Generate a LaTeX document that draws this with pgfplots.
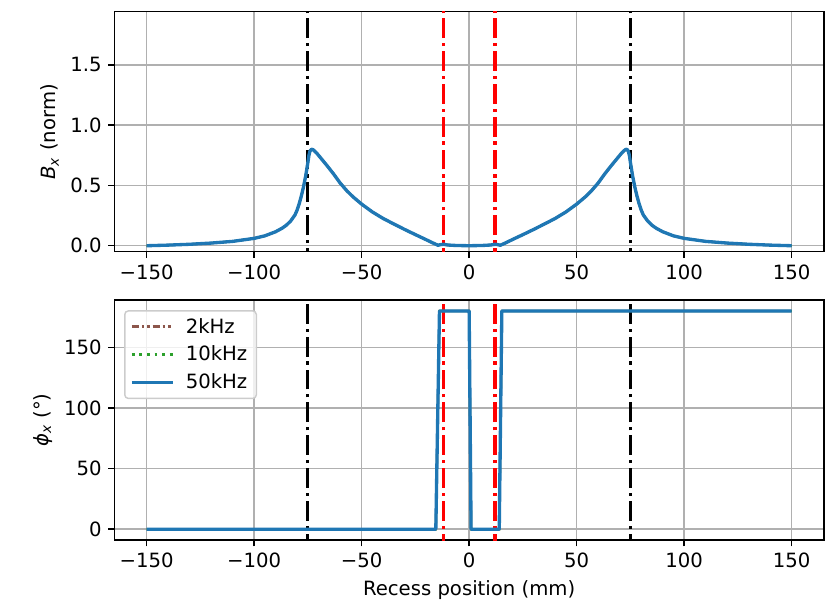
\documentclass[border=0pt]{standalone}
\usepackage{pgfplots}
\pgfplotsset{compat=1.18}
\usepackage{pgfplotstable}
\usepackage{fontspec}
\setmainfont{DejaVu Sans}
\definecolor{mplblue}{HTML}{1F77B4}
\definecolor{mplbrown}{HTML}{8C564B}
\definecolor{mplgreen}{HTML}{2CA02C}
\definecolor{gridgray}{HTML}{B0B0B0}
\definecolor{leggray}{HTML}{CCCCCC}

\pgfplotstableread{
x y
-150 0
-140 0.005
-130 0.012
-120 0.022
-110 0.036
-100 0.061
-95 0.082
-90 0.116
-87 0.145
-85 0.17
-83 0.205
-81 0.255
-80 0.296
-79 0.35
-78 0.415
-77 0.49
-76 0.58
-75 0.69
-74.5 0.75
-74 0.785
-73.3 0.80
-72.5 0.795
-71 0.77
-69 0.727
-66 0.662
-63 0.594
-60 0.52
-57 0.458
-54 0.405
-50 0.345
-45 0.28
-40 0.226
-35 0.18
-30 0.135
-25 0.092
-20 0.05
-17 0.024
-14.5 0.004
-13 0.010
-12 0.012
-10 0.006
-6 0.002
0 0
6 0.002
10 0.006
12 0.012
13 0.010
14.5 0.004
17 0.024
20 0.05
25 0.092
30 0.135
35 0.18
40 0.226
45 0.28
50 0.345
54 0.405
57 0.458
60 0.52
63 0.594
66 0.662
69 0.727
71 0.77
72.5 0.795
73.3 0.80
74 0.785
74.5 0.75
75 0.69
76 0.58
77 0.49
78 0.415
79 0.35
80 0.296
81 0.255
83 0.205
85 0.17
87 0.145
90 0.116
95 0.082
100 0.061
110 0.036
120 0.022
130 0.012
140 0.005
150 0
}\bxdata

\pgfplotstableread{
x y
-150 0
-15.5 0
-13.8 180
0 180
0.9 0
14 0
15.2 180
150 180
}\phidata

\pgfplotsset{
  mpl/.style={
    scale only axis,
    width=393.5pt, height=133.1pt,
    xmin=-165, xmax=165,
    xtick={-150,-100,-50,0,50,100,150},
    xticklabels={−150,−100,−50,0,50,100,150},
    grid=major,
    major grid style={color=gridgray, line width=0.8pt},
    axis line style={line width=0.8pt},
    tick align=outside,
    xtick pos=bottom, ytick pos=left,
    major tick length=3.5pt,
    every tick/.style={black, line width=0.8pt},
    tick label style={font=\fontsize{10.9}{13}\selectfont},
    label style={font=\fontsize{10.9}{13}\selectfont},
    /pgf/number format/assume math mode=true,
    clip=true,
  },
  vblack/.style={black, line width=1.8pt, dash pattern=on 11pt off 2.7pt on 1.8pt off 2.7pt},
  vred/.style={red, line width=1.8pt, dash pattern=on 11pt off 2.7pt on 1.8pt off 2.7pt},
  bl/.style={mplblue, line width=1.85pt, line join=round},
  br/.style={mplbrown, line width=1.6pt, dash pattern=on 4pt off 1.5pt on 1.5pt off 1.5pt on 1.5pt off 1.5pt},
  gr/.style={mplgreen, line width=1.6pt, dash pattern=on 1.6pt off 2.6pt},
  brh/.style={mplbrown, line width=1.2pt},
  grh/.style={mplgreen, line width=1.2pt},
}

\begin{document}
\begin{tikzpicture}
\useasboundingbox (0,0) rectangle (460.8pt,-341pt);

\begin{axis}[mpl,
  at={(63.4pt,-6.5pt)}, anchor=north west,
  ymin=-0.05, ymax=1.94,
  ytick={0,0.5,1,1.5},
  yticklabels={0.0,0.5,1.0,1.5},
  ylabel={{\itshape B}\textsubscript{\itshape x} (norm)},
  ylabel style={at={([xshift=-35.7pt]axis description cs:0,0.5)}, anchor=center},
]
\addplot[vblack, forget plot] coordinates {(-75,-1) (-75,3)};
\addplot[vblack, forget plot] coordinates {(75,-1) (75,3)};
\addplot[vred, forget plot] coordinates {(-12,-1) (-12,3)};
\addplot[vred, forget plot] coordinates {(12,-1) (12,3)};
\addplot[brh] table[x=x,y=y] {\bxdata};
\addplot[grh] table[x=x,y=y] {\bxdata};
\addplot[bl] table[x=x,y=y] {\bxdata};
\end{axis}

\begin{axis}[mpl,
  at={(63.4pt,-166.4pt)}, anchor=north west,
  ymin=-9, ymax=189,
  ytick={0,50,100,150},
  yticklabels={0,50,100,150},
  ylabel={{\itshape ϕ}\textsubscript{\itshape x} (°)},
  ylabel style={at={([xshift=-39.7pt]axis description cs:0,0.5)}, anchor=center},
  xlabel={Recess position (mm)},
  xlabel style={at={([yshift=-27.7pt]axis description cs:0.5,0)}, anchor=center},
  legend cell align=left,
  legend style={at={(axis description cs:0.0137,0.958)}, anchor=north west,
    draw=leggray, line width=0.8pt, rounded corners=2pt, fill=white, fill opacity=0.8, text opacity=1,
    font=\fontsize{10.9}{13}\selectfont, inner xsep=3pt, inner ysep=2pt,
    row sep=1.6pt},
  legend image code/.code={\draw[#1] (0pt,0pt) -- (23pt,0pt);},
]
\addplot[vblack, forget plot] coordinates {(-75,-20) (-75,300)};
\addplot[vblack, forget plot] coordinates {(75,-20) (75,300)};
\addplot[vred, forget plot] coordinates {(-12,-20) (-12,300)};
\addplot[vred, forget plot] coordinates {(12,-20) (12,300)};
\addplot[brh, forget plot] table[x=x,y=y] {\phidata};
\addplot[grh, forget plot] table[x=x,y=y] {\phidata};
\addlegendimage{br}
\addlegendentry{\hspace{4pt}2kHz}
\addlegendimage{gr}
\addlegendentry{\hspace{4pt}10kHz}
\addplot[bl] table[x=x,y=y] {\phidata};
\addlegendentry{\hspace{4pt}50kHz}
\end{axis}
\end{tikzpicture}
\end{document}
